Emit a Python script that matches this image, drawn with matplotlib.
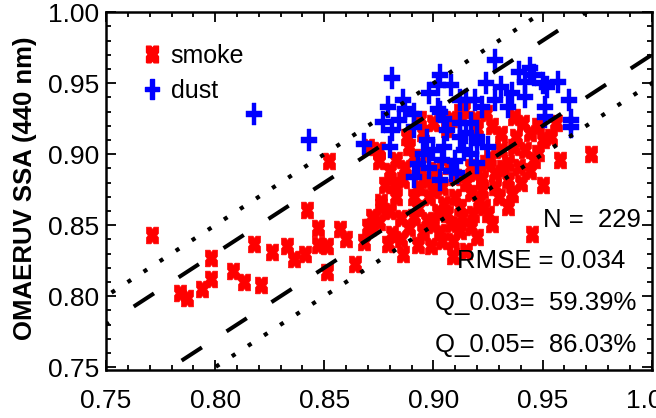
import matplotlib.pyplot as plt
import numpy as np
from matplotlib.lines import Line2D

# smoke points (AERONET SSA, OMAERUV SSA)
smoke_x = [0.771, 0.784, 0.787, 0.794, 0.798, 0.798, 0.808, 0.813, 0.818, 0.821,
           0.826, 0.833, 0.836, 0.841, 0.842, 0.847, 0.847, 0.851, 0.851, 0.852,
           0.857, 0.864, 0.870, 0.876, 0.875,
           0.912, 0.906, 0.895, 0.888, 0.875, 0.883, 0.891, 0.886, 0.897, 0.883,
           0.876, 0.891, 0.898, 0.904, 0.871, 0.881, 0.891, 0.897, 0.902, 0.908,
           0.912, 0.917, 0.917, 0.909, 0.886, 0.904, 0.917,
           0.924, 0.937, 0.941, 0.956, 0.954, 0.950, 0.937, 0.931, 0.948, 0.972,
           0.958, 0.934, 0.924, 0.928, 0.939, 0.934, 0.950, 0.922, 0.928, 0.923,
           0.934, 0.927, 0.945, 0.920, 0.919, 0.914,
           0.880, 0.885, 0.889, 0.893, 0.895, 0.900, 0.905, 0.910, 0.906, 0.913,
           0.915, 0.910, 0.907, 0.901, 0.894, 0.887, 0.880, 0.878, 0.882, 0.893,
           0.900, 0.912, 0.918, 0.921, 0.925, 0.930, 0.936, 0.940, 0.944, 0.946,
           0.942, 0.938, 0.944, 0.948, 0.931, 0.927, 0.920,
           0.889, 0.893, 0.922, 0.926, 0.932, 0.915, 0.909, 0.893, 0.899,
           0.903, 0.885, 0.879, 0.872, 0.868, 0.860, 0.875, 0.870, 0.919, 0.908,
           0.900, 0.894]
smoke_y = [0.843, 0.802, 0.799, 0.805, 0.812, 0.827, 0.818, 0.810, 0.837, 0.808,
           0.831, 0.835, 0.826, 0.830, 0.861, 0.848, 0.836, 0.835, 0.817, 0.895,
           0.847, 0.823, 0.849, 0.866, 0.852,
           0.930, 0.918, 0.915, 0.912, 0.903, 0.896, 0.898, 0.882, 0.882, 0.870,
           0.863, 0.870, 0.870, 0.877, 0.849, 0.844, 0.856, 0.854, 0.859, 0.851,
           0.863, 0.873, 0.849, 0.839, 0.830, 0.839, 0.891,
           0.929, 0.926, 0.922, 0.922, 0.912, 0.910, 0.905, 0.903, 0.901, 0.900,
           0.896, 0.894, 0.894, 0.887, 0.891, 0.882, 0.878, 0.875, 0.877, 0.863,
           0.863, 0.851, 0.844, 0.842, 0.887, 0.931,
           0.860, 0.855, 0.848, 0.862, 0.845, 0.850, 0.865, 0.870, 0.858, 0.856,
           0.880, 0.884, 0.892, 0.889, 0.893, 0.890, 0.888, 0.878, 0.878, 0.877,
           0.875, 0.846, 0.858, 0.867, 0.858, 0.870, 0.872, 0.880, 0.888, 0.896,
           0.903, 0.912, 0.915, 0.920, 0.914, 0.920, 0.918,
           0.905, 0.888, 0.883, 0.897, 0.890, 0.832, 0.828, 0.836, 0.835,
           0.845, 0.840, 0.837, 0.856, 0.838, 0.840, 0.895, 0.905, 0.925, 0.925,
           0.922, 0.925]

# dust points
dust_x = [0.818, 0.843, 0.868, 0.881, 0.903, 0.908, 0.898, 0.886, 0.879, 0.891,
          0.903, 0.877, 0.881, 0.880, 0.897, 0.900, 0.906, 0.912, 0.917, 0.915,
          0.914, 0.904, 0.903, 0.891, 0.920, 0.920, 0.911,
          0.928, 0.939, 0.946, 0.924, 0.931, 0.942, 0.950, 0.957, 0.952, 0.936,
          0.942, 0.928, 0.962, 0.951, 0.922, 0.934, 0.963, 0.951, 0.920, 0.919,
          0.944, 0.963, 0.925,
          0.891, 0.902, 0.912, 0.887, 0.884, 0.902,
          0.895, 0.905, 0.910, 0.915, 0.898, 0.908, 0.917, 0.893, 0.912, 0.905]
dust_y = [0.928, 0.910, 0.907, 0.954, 0.956, 0.949, 0.943, 0.938, 0.933, 0.928,
          0.930, 0.923, 0.917, 0.905, 0.910, 0.903, 0.917, 0.912, 0.922, 0.938,
          0.903, 0.896, 0.882, 0.884, 0.908, 0.894, 0.887,
          0.966, 0.958, 0.956, 0.950, 0.947, 0.951, 0.950, 0.951, 0.947, 0.943,
          0.940, 0.938, 0.938, 0.933, 0.933, 0.933, 0.924, 0.926, 0.912, 0.938,
          0.961, 0.919, 0.905,
          0.919, 0.932, 0.938, 0.932, 0.924, 0.949,
          0.900, 0.905, 0.895, 0.915, 0.890, 0.888, 0.900, 0.893, 0.922, 0.925]

stats = ['N =  229', 'RMSE = 0.034', 'Q_0.03=  59.39%', 'Q_0.05=  86.03%']

sans = ['Liberation Sans', 'DejaVu Sans']

# fat X marker (square with notches) and thick plus, taller than wide
xm = [(-1, -1), (-0.25, -1), (0, -0.72), (0.25, -1), (1, -1), (1, -0.25), (0.72, 0),
      (1, 0.25), (1, 1), (0.25, 1), (0, 0.72), (-0.25, 1), (-1, 1), (-1, 0.25),
      (-0.72, 0), (-1, -0.25), (-1, -1)]
xm = [(a, b * 1.4) for a, b in xm]
t, u, h = 0.28, 0.34, 1.35
pm = [(-t, h), (t, h), (t, u), (1, u), (1, -u), (t, -u), (t, -h), (-t, -h),
      (-t, -u), (-1, -u), (-1, u), (-t, u), (-t, h)]

fig = plt.figure(figsize=(6.56, 4.18), dpi=100)
ax = fig.add_axes([0.1616, 0.1148, 0.832, 0.856])

ax.plot(smoke_x, smoke_y, linestyle='none', marker=xm, ms=12, color='#ff0000',
        mec='#ff0000', mew=0.5)
ax.plot(dust_x, dust_y, linestyle='none', marker=pm, ms=16, color='#0000ff',
        mec='#0000ff', mew=0.3)

xx = np.array([0.70, 1.05])
for off in (0.03, -0.03):
    ax.plot(xx, xx + off, color='black', lw=2.9, linestyle=(0, (6, 7.3)),
            dash_capstyle='butt')
for off in (0.05, -0.05):
    ax.plot(xx, xx + off, color='black', lw=3.0, linestyle=(0, (1, 3.6)),
            dash_capstyle='butt')

ax.set_xlim(0.75, 1.0)
ax.set_ylim(0.748, 1.0)
ax.set_xticks([0.75, 0.80, 0.85, 0.90, 0.95, 1.00])
ax.set_yticks([0.75, 0.80, 0.85, 0.90, 0.95, 1.00])
ax.set_xticks(np.arange(0.75, 1.0, 0.01), minor=True)
ax.set_yticks(np.arange(0.75, 1.0, 0.01), minor=True)
ax.xaxis.set_major_formatter(plt.FormatStrFormatter('%.2f'))
ax.yaxis.set_major_formatter(plt.FormatStrFormatter('%.2f'))
ax.tick_params(which='both', direction='in', top=True, right=True, width=1.3)
ax.tick_params(which='major', length=7)
ax.tick_params(which='minor', length=3.5)
ax.tick_params(axis='x', which='major', pad=14)
ax.tick_params(axis='y', which='major', pad=5)
for lab in ax.get_xticklabels() + ax.get_yticklabels():
    lab.set_family(sans)
    lab.set_fontsize(19)
for s in ax.spines.values():
    s.set_linewidth(1.8)

fig.text(25 / 656, 1 - 188 / 418, 'OMAERUV SSA (440 nm)', rotation=90,
         ha='center', va='center', fontsize=18.5, fontweight='bold', family=sans)

pos = [(0.800, 0.400), (0.643, 0.285), (0.603, 0.168), (0.603, 0.050)]
for s, (px, py) in zip(stats, pos):
    ax.text(px, py, s, transform=ax.transAxes, ha='left', va='baseline',
            fontsize=18.5, family=sans)

handles = [Line2D([], [], linestyle='none', marker=xm, ms=12, color='#ff0000'),
           Line2D([], [], linestyle='none', marker=pm, ms=14, color='#0000ff')]
ax.legend(handles, ['smoke', 'dust'], loc='upper left', bbox_to_anchor=(0.045, 0.94),
          frameon=False, handlelength=0.9, handletextpad=0.3, labelspacing=0.45,
          borderaxespad=0, prop={'family': sans, 'size': 18})

fig.savefig('out.png', dpi=100)
